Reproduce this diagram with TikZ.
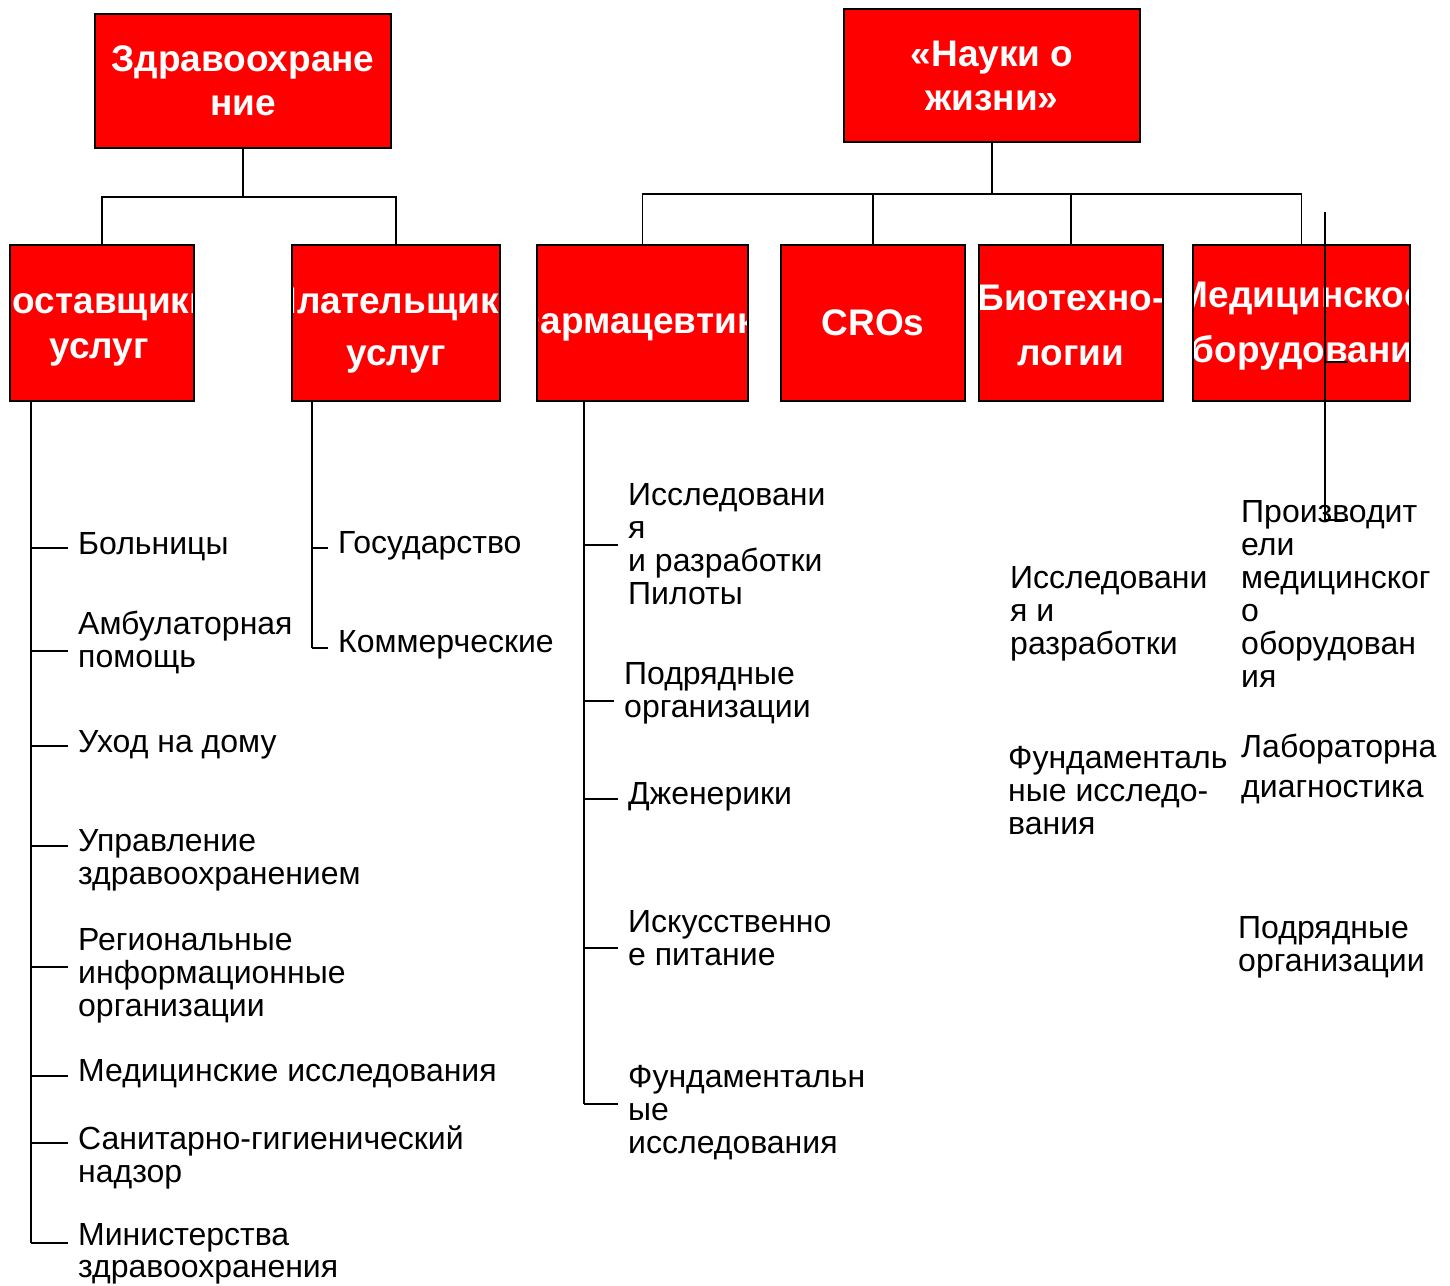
\documentclass[tikz,border=0pt]{standalone}
\usepackage{fontspec}
\setmainfont{Liberation Sans}

\begin{document}
\begin{tikzpicture}[x=1pt, y=-1pt,
    box/.style={draw=black, line width=1.6pt, fill=red, anchor=north west, inner sep=0pt, outer sep=0pt},
    boxtext/.style={draw=none, fill=none, anchor=center, text=white, align=center, inner sep=0pt,
                    font=\fontsize{37}{#1}\selectfont\bfseries},
    boxtext/.default=44,
    item/.style={anchor=north west, align=left, inner xsep=10pt, inner ysep=0pt,
                 font=\fontsize{32}{#1}\selectfont},
    item/.default=33,
    link/.style={line width=1.6pt}
]
  \useasboundingbox (0,0) rectangle (1450,1285);

  % верхние блоки
  \node[box, minimum width=296pt, minimum height=134pt,
        path picture={\node[boxtext=44] at (path picture bounding box.center) {Здравоохране\\ние};}]
        (zdrav) at (95,14) {};
  \node[box, minimum width=296pt, minimum height=133pt,
        path picture={\node[boxtext=44] at (path picture bounding box.center) {«Науки о\\жизни»};}]
        (nauki) at (844,9) {};

  % второй уровень
  \node[box, minimum width=184pt, minimum height=156pt,
        path picture={\node[boxtext=45] at ([xshift=-3pt,yshift=-4pt]path picture bounding box.center) {Поставщики\\услуг};}]
        (postav) at (10,245) {};
  \node[box, minimum width=208pt, minimum height=156pt,
        path picture={\node[boxtext=52] at ([yshift=-8pt]path picture bounding box.center) {Плательщики\\услуг};}]
        (plat) at (292,245) {};
  \node[box, minimum width=211pt, minimum height=156pt,
        path picture={\node[boxtext] at ([yshift=-2pt]path picture bounding box.center) {Фармацевтика};}]
        (farma) at (537,245) {};
  \node[box, minimum width=184pt, minimum height=156pt,
        path picture={\node[boxtext] at (path picture bounding box.center) {CROs};}]
        (cros) at (781,245) {};
  \node[box, minimum width=184pt, minimum height=156pt,
        path picture={\node[boxtext=55] at ([yshift=-2pt]path picture bounding box.center) {Биотехно-\\логии};}]
        (biotech) at (979,245) {};
  \node[box, minimum width=217pt, minimum height=156pt,
        path picture={\node[boxtext=55] at ([yshift=-3pt]path picture bounding box.center) {Медицинское\\оборудование};}]
        (medob) at (1193,245) {};

  % связи сверху
  \draw[link] (zdrav.south) -- ++(0,49) -| (postav.north);
  \draw[link] (zdrav.south) -- ++(0,49) -| (plat.north);
  \draw[link] (nauki.south) -- ++(0,52) -| (farma.north);
  \draw[link] (nauki.south) -- ++(0,52) -| (cros.north);
  \draw[link] (nauki.south) -- ++(0,52) -| (biotech.north);
  \draw[link] (nauki.south) -- ++(0,52) -| (medob.north);

  % поставщики услуг
  \node[item] (hosp) at (68,532) {Больницы};
  \node[item] (amb) at (68,611) {Амбулаторная\\помощь};
  \node[item] (home) at (68,730) {Уход на дому};
  \node[item] (mgmt) at (68,829) {Управление\\здравоохранением};
  \node[item] (reg) at (68,928) {Региональные\\информационные\\организации};
  \node[item] (mres) at (68,1059) {Медицинские исследования};
  \node[item] (san) at (68,1126) {Санитарно-гигиенический\\надзор};
  \node[item=32] (mins) at (68,1223) {Министерства\\здравоохранения};

  \coordinate (p1) at (31,548);
  \coordinate (p2) at (31,651);
  \coordinate (p3) at (31,746);
  \coordinate (p4) at (31,846);
  \coordinate (p5) at (31,967);
  \coordinate (p6) at (31,1076);
  \coordinate (p7) at (31,1143);
  \coordinate (p8) at (31,1243);
  \draw[link] ([xshift=21pt]postav.south west) -- (p8);
  \draw[link] (p1) -- (p1 -| hosp.west);
  \draw[link] (p2) -- (p2 -| amb.west);
  \draw[link] (p3) -- (p3 -| home.west);
  \draw[link] (p4) -- (p4 -| mgmt.west);
  \draw[link] (p5) -- (p5 -| reg.west);
  \draw[link] (p6) -- (p6 -| mres.west);
  \draw[link] (p7) -- (p7 -| san.west);
  \draw[link] (p8) -- (p8 -| mins.west);

  % плательщики услуг
  \node[item] (gov) at (328,531) {Государство};
  \node[item] (comm) at (328,630) {Коммерческие};
  \coordinate (q1) at (312,548);
  \coordinate (q2) at (312,648);
  \draw[link] ([xshift=20pt]plat.south west) -- (q2);
  \draw[link] (q1) -- (q1 -| gov.west);
  \draw[link] (q2) -- (q2 -| comm.west);

  % фармацевтика
  \node[item] (rd) at (618,483) {Исследовани\\я\\и разработки\\Пилоты};
  \node[item] (contr) at (614,662) {Подрядные\\организации};
  \node[item] (gener) at (618,782) {Дженерики};
  \node[item] (food) at (618,910) {Искусственно\\е питание};
  \node[item] (fund) at (618,1065) {Фундаментальн\\ые\\исследования};
  \coordinate (f1) at (584,545);
  \coordinate (f2) at (584,701);
  \coordinate (f3) at (584,799);
  \coordinate (f4) at (584,948);
  \coordinate (f5) at (584,1104);
  \draw[link] ([xshift=47pt]farma.south west) -- (f5);
  \draw[link] (f1) -- (f1 -| rd.west);
  \draw[link] (f2) -- (f2 -| contr.west);
  \draw[link] (f3) -- (f3 -| gener.west);
  \draw[link] (f4) -- (f4 -| food.west);
  \draw[link] (f5) -- (f5 -| fund.west);

  % биотехнологии
  \node[item] (brd) at (1000,566) {Исследовани\\я и\\разработки};
  \node[item] (bfund) at (998,746) {Фундаменталь\\ные исследо-\\вания};

  % медицинское оборудование
  \node[item] (mprod) at (1231,500) {Производит\\ели\\медицинског\\о\\оборудован\\ия};
  \node[item=40] (mlab) at (1231,734) {Лабораторна\\диагностика};
  \node[item] (msub) at (1228,916) {Подрядные\\организации};

  \coordinate (m1) at (1325,212);
  \coordinate (m2) at (1325,362);
  \coordinate (m3) at (1325,520);
  \draw[line width=1.4pt] (m1) -- (m3) -- ++(23,0);
  \draw[line width=1.4pt] (m2) -- ++(23,0);
\end{tikzpicture}
\end{document}
